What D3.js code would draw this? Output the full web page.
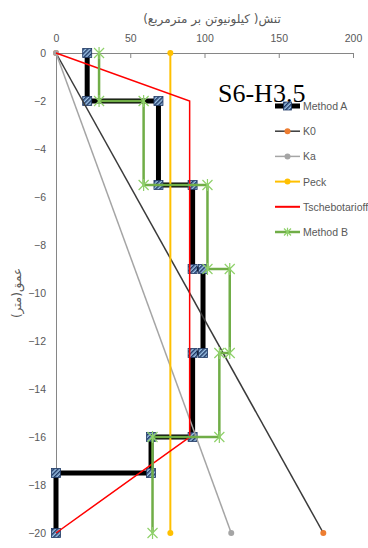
<!DOCTYPE html>
<html><head><meta charset="utf-8">
<script src="https://cdn.jsdelivr.net/npm/d3@7"></script>
<style>body{margin:0;background:#fff}svg{display:block}</style>
</head><body>
<svg id="c" width="368" height="548"></svg>
<script>
const xTicks = [0, 50, 100, 150, 200];
const yTicks = [0, -2, -4, -6, -8, -10, -12, -14, -16, -18, -20];
const seriesNames = ["Method A", "K0", "Ka", "Peck", "Tschebotarioff", "Method B"];
const methodA = [[21,0],[21,-2],[69,-2],[69,-5.5],[92,-5.5],[92,-9],[99,-9],[99,-12.5],[92,-12.5],[92,-16],[64,-16],[64,-17.5],[0,-17.5],[0,-20]];
const k0 = [[0,0],[180,-20]];
const ka = [[0,0],[118,-20]];
const peck = [[77,0],[77,-20]];
const tscheb = [[0,0],[90,-2],[90,-16],[0,-20]];
const methodB = [[29,0],[29,-2],[59,-2],[59,-5.5],[102,-5.5],[102,-9],[117,-9],[117,-12.5],[110,-12.5],[110,-16],[65,-16],[65,-20]];
const title = "S6-H3.5";
const xTitle = "تنش( کیلونیوتن بر مترمربع)";
const yTitle = "عمق(متر)";

const svg = d3.select("#c");
const x = d3.scaleLinear().domain([0,200]).range([56,353]);
const y = d3.scaleLinear().domain([0,-20]).range([53,533]);
const line = d3.line().x(d=>x(d[0])).y(d=>y(d[1]));

const defs = svg.append("defs");
const pat = defs.append("pattern").attr("id","pa").attr("width",3).attr("height",3)
  .attr("patternUnits","userSpaceOnUse").attr("patternTransform","rotate(45)");
pat.append("rect").attr("width",3).attr("height",3).attr("fill","#9dc3e6");
pat.append("rect").attr("width",1.5).attr("height",3).attr("fill","#1f3864");

// axes
const gx = svg.append("g").attr("transform",`translate(0,${y(0)})`)
  .call(d3.axisTop(x).tickValues(xTicks).tickSize(-5).tickPadding(11));
const gy = svg.append("g").attr("transform",`translate(${x(0)},0)`)
  .call(d3.axisLeft(y).tickValues(yTicks).tickSize(0).tickPadding(10));
[gx,gy].forEach(g=>{
  g.select(".domain").attr("stroke","#868686");
  g.selectAll(".tick line").attr("stroke","#868686");
  g.selectAll("text").attr("fill","#595959").attr("font-family","Liberation Sans, Arial, sans-serif").attr("font-size","10.5px");
});

// series
const ser = svg.append("g");
ser.append("path").attr("d",line(methodA)).attr("fill","none").attr("stroke","#000").attr("stroke-width",5);
ser.selectAll(".ma").data(methodA).join("rect").attr("x",d=>x(d[0])-4.5).attr("y",d=>y(d[1])-4.5)
  .attr("width",9).attr("height",9).attr("fill","url(#pa)").attr("stroke","#1f3864").attr("stroke-width",0.8);

function dotSeries(data, col, w, mcol){
  ser.append("path").attr("d",line(data)).attr("fill","none").attr("stroke",col).attr("stroke-width",w);
  ser.selectAll(null).data(data).join("circle").attr("cx",d=>x(d[0])).attr("cy",d=>y(d[1])).attr("r",3).attr("fill",mcol);
}
dotSeries(k0, "#3a3a3a", 1.5, "#ed7d31");
dotSeries(ka, "#a5a5a5", 1.5, "#a5a5a5");
dotSeries(peck, "#ffc000", 2, "#ffc000");
ser.append("path").attr("d",line(tscheb)).attr("fill","none").attr("stroke","#ff0000").attr("stroke-width",1.5);
ser.append("path").attr("d",line(methodB)).attr("fill","none").attr("stroke","#70ad47").attr("stroke-width",2.5);

function star(g, cx, cy, s){
  const p = `M${cx-s},${cy-s}L${cx+s},${cy+s}M${cx-s},${cy+s}L${cx+s},${cy-s}M${cx},${cy-s*1.2}L${cx},${cy+s*1.2}`;
  g.append("path").attr("d",p).attr("stroke","#8fd16a").attr("stroke-width",1.2).attr("fill","none");
}
methodB.forEach(d=>star(ser, x(d[0]), y(d[1]), 5));

// titles
svg.append("text").attr("x",218).attr("y",102).attr("font-family","Liberation Serif, Times New Roman, serif")
  .attr("font-size","26px").attr("fill","#000").text(title);
svg.append("text").attr("x",212).attr("y",23).attr("text-anchor","middle").attr("font-family","DejaVu Sans, sans-serif")
  .attr("font-size","12px").attr("fill","#595959").text(xTitle);
svg.append("text").attr("transform","translate(21,293) rotate(-90)").attr("text-anchor","middle").attr("font-family","DejaVu Sans, sans-serif")
  .attr("font-size","12px").attr("fill","#595959").text(yTitle);

// legend
const lg = svg.append("g");
const ly0 = 106, lstep = 25.2, lx1 = 275, lx2 = 300;
seriesNames.forEach((name,i)=>{
  const yy = ly0 + i*lstep, mx = (lx1+lx2)/2;
  const g = lg.append("g");
  const cfg = [
    {c:"#000",w:5},{c:"#3a3a3a",w:1.5},{c:"#a5a5a5",w:1.5},{c:"#ffc000",w:2},{c:"#ff0000",w:2},{c:"#70ad47",w:2.5}][i];
  g.append("line").attr("x1",lx1).attr("x2",lx2).attr("y1",yy).attr("y2",yy).attr("stroke",cfg.c).attr("stroke-width",cfg.w);
  if(i===0) g.append("rect").attr("x",mx-4).attr("y",yy-4).attr("width",8).attr("height",8).attr("fill","url(#pa)").attr("stroke","#1f3864").attr("stroke-width",0.8);
  if(i===1) g.append("circle").attr("cx",mx).attr("cy",yy).attr("r",3).attr("fill","#ed7d31");
  if(i===2) g.append("circle").attr("cx",mx).attr("cy",yy).attr("r",3).attr("fill","#a5a5a5");
  if(i===3) g.append("circle").attr("cx",mx).attr("cy",yy).attr("r",3).attr("fill","#ffc000");
  if(i===5) star(g, mx, yy, 3.5);
  g.append("text").attr("x",lx2+3).attr("y",yy+4).attr("font-family","Liberation Sans, Arial, sans-serif")
    .attr("font-size","10.5px").attr("fill","#595959").text(name);
});
</script>
</body></html>
